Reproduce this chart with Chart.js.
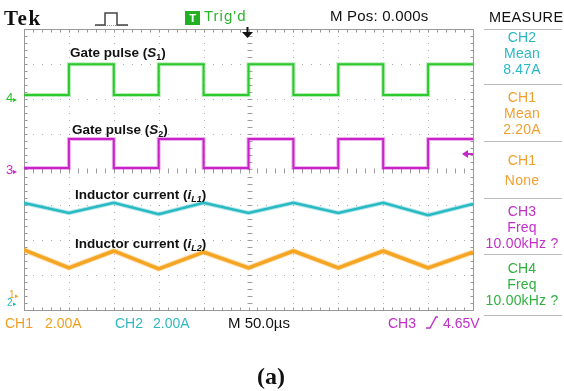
<!DOCTYPE html>
<html>
<head>
<meta charset="utf-8">
<script src="https://cdn.jsdelivr.net/npm/chart.js@4.4.1/dist/chart.umd.min.js"></script>
<style>
  html, body { margin:0; padding:0; background:#fff; }
  #wrap { position:relative; width:564px; height:391px; overflow:hidden; font-family:"Liberation Sans", Arial, sans-serif; }
  canvas { position:absolute; left:0; top:0; }
  .t { position:absolute; white-space:nowrap; line-height:16px; }
  .lab { position:absolute; white-space:nowrap; font-size:13.5px; font-weight:bold; color:#111; line-height:16px; }
  .lab sub { font-size:9px; vertical-align:-3px; }
  .pan { position:absolute; left:480px; width:84px; text-align:center; font-size:14px; line-height:16px; letter-spacing:0.2px; }
  .sep { position:absolute; left:484px; width:78px; height:0; border-top:1px solid #bbb; }
</style>
</head>
<body>
<div id="wrap">
<canvas id="c" width="564" height="391"></canvas>

<!-- top bar -->
<div class="t" style="left:4px;top:7px;font-family:'Liberation Serif',serif;font-weight:bold;font-size:21px;line-height:22px;letter-spacing:1.5px;color:#111;">Tek</div>
<svg style="position:absolute;left:94px;top:10px" width="36" height="18">
  <line x1="1" y1="15.5" x2="34" y2="15.5" stroke="#999" stroke-width="1" stroke-dasharray="1,1"/>
  <polyline points="1,15 11,15 11,3 23,3 23,15 34,15" fill="none" stroke="#444" stroke-width="1.5"/>
</svg>
<div style="position:absolute;left:185px;top:11px;width:15px;height:14px;background:#22b022;color:#fff;font-size:11px;font-weight:bold;text-align:center;line-height:14px;">T</div>
<div class="t" style="left:204px;top:8px;font-size:15px;letter-spacing:1px;color:#2cb52c;">Trig'd</div>
<div class="t" style="left:330px;top:8px;font-size:15px;letter-spacing:0.2px;color:#111;">M Pos: 0.000s</div>
<div class="t" style="left:489px;top:9px;font-size:14.5px;letter-spacing:0.4px;color:#111;">MEASURE</div>
<svg style="position:absolute;left:241px;top:27px" width="13" height="12">
  <line x1="6.5" y1="0" x2="6.5" y2="6" stroke="#111" stroke-width="2"/>
  <polygon points="1,5 12,5 6.5,11" fill="#111"/>
</svg>

<!-- left channel markers -->
<div class="t" style="left:6px;top:90px;font-size:13px;color:#2cc02c;">4<span style="font-size:8px">&#9656;</span></div>
<div class="t" style="left:6px;top:162px;font-size:13px;color:#c828c8;">3<span style="font-size:8px">&#9656;</span></div>
<div class="t" style="left:9px;top:289px;font-size:10px;line-height:12px;color:#f0a020;">1<span style="font-size:7px">&#9656;</span></div>
<div class="t" style="left:7px;top:297px;font-size:10px;line-height:12px;color:#22b8c0;">2<span style="font-size:7px">&#9656;</span></div>
<svg style="position:absolute;left:461px;top:149px" width="13" height="10">
  <polygon points="1,5 7,1 7,9" fill="#c828c8"/>
  <line x1="6" y1="5" x2="12" y2="5" stroke="#c828c8" stroke-width="2"/>
</svg>

<!-- trace labels -->
<div class="lab" style="left:70px;top:45px;">Gate pulse (<i>S</i><sub>1</sub>)</div>
<div class="lab" style="left:72px;top:122px;">Gate pulse (<i>S</i><sub>2</sub>)</div>
<div class="lab" style="left:75px;top:187px;">Inductor current (<i>i<sub>L1</sub></i>)</div>
<div class="lab" style="left:75px;top:236px;">Inductor current (<i>i<sub>L2</sub></i>)</div>

<!-- measure panel -->
<div class="sep" style="top:29px"></div>
<div class="pan" style="top:29px;color:#2ab8c2;">CH2<br>Mean<br>8.47A</div>
<div class="sep" style="top:84px"></div>
<div class="pan" style="top:89px;color:#f0a030;">CH1<br>Mean<br>2.20A</div>
<div class="sep" style="top:141px"></div>
<div class="pan" style="top:150px;line-height:20px;color:#f0a030;">CH1<br>None</div>
<div class="sep" style="top:198px"></div>
<div class="pan" style="top:203px;color:#c030c8;">CH3<br>Freq<br>10.00kHz ?</div>
<div class="sep" style="top:254px"></div>
<div class="pan" style="top:260px;color:#30b040;">CH4<br>Freq<br>10.00kHz ?</div>
<div class="sep" style="top:315px"></div>

<!-- bottom bar -->
<div class="t" style="left:5px;top:315px;font-size:14px;color:#f0a020;">CH1</div>
<div class="t" style="left:45px;top:315px;font-size:14px;color:#f0a020;">2.00A</div>
<div class="t" style="left:115px;top:315px;font-size:14px;color:#30b8c0;">CH2</div>
<div class="t" style="left:153px;top:315px;font-size:14px;color:#30b8c0;">2.00A</div>
<div class="t" style="left:228px;top:315px;font-size:15px;color:#111;">M 50.0&#181;s</div>
<div class="t" style="left:388px;top:315px;font-size:14px;color:#c030c8;">CH3</div>
<svg style="position:absolute;left:425px;top:315px" width="14" height="14">
  <polyline points="1,13 5,13 11,2 13,2" fill="none" stroke="#c030c8" stroke-width="1.4"/>
</svg>
<div class="t" style="left:443px;top:315px;font-size:14px;color:#c030c8;">4.65V</div>

<div class="t" style="left:257px;top:363px;font-family:'Liberation Serif',serif;font-weight:bold;font-size:24px;line-height:26px;color:#111;">(a)</div>
</div>

<script>
// time in microseconds (M 50.0 us/div, 10 divisions)
const gateTimes = [0,50,50,100,100,150,150,200,200,250,250,300,300,350,350,400,400,450,450,500];
// gate pulses, screen divisions (0 = bottom, 8 = top)
const gateS1 = [6.12,6.12,7.0,7.0,6.12,6.12,7.0,7.0,6.12,6.12,7.0,7.0,6.12,6.12,7.0,7.0,6.12,6.12,7.0,7.0];
const gateS2 = [4.04,4.04,4.87,4.87,4.04,4.04,4.87,4.87,4.04,4.04,4.87,4.87,4.04,4.04,4.87,4.87,4.04,4.04,4.87,4.87];
// inductor currents, screen divisions
const currentTimes = [0,50,100,150,200,250,300,350,400,450,500];
const iL1 = [3.05,2.76,3.05,2.73,3.05,2.76,3.05,2.76,3.05,2.70,3.02];
const iL2 = [1.71,1.20,1.68,1.17,1.65,1.20,1.68,1.20,1.68,1.20,1.65];

function pts(xs, ys){ return xs.map((x,i)=>({x:x, y:ys[i]})); }

const scopeGrid = {
  id:'scopeGrid',
  beforeDatasetsDraw(chart){
    const {ctx, chartArea:a, scales:{x, y}} = chart;
    ctx.save();
    ctx.fillStyle = 'rgba(150,150,150,0.75)';
    for (let t = 50; t < 500; t += 50) {
      const px = Math.round(x.getPixelForValue(t));
      for (let v = 0.2; v < 8; v += 0.2) {
        const py = Math.round(y.getPixelForValue(v));
        ctx.fillRect(px, py, 1, 1);
      }
    }
    for (let v = 1; v < 8; v += 1) {
      const py = Math.round(y.getPixelForValue(v));
      for (let t = 10; t < 500; t += 10) {
        const px = Math.round(x.getPixelForValue(t));
        ctx.fillRect(px, py, 1, 1);
      }
    }
    ctx.strokeStyle = 'rgba(140,140,140,0.8)';
    ctx.lineWidth = 1;
    const cx = Math.round(x.getPixelForValue(250)) + 0.5;
    const cy = Math.round(y.getPixelForValue(4)) + 0.5;
    ctx.beginPath();
    for (let v = 0.2; v < 8; v += 0.2) {
      const py = Math.round(y.getPixelForValue(v)) + 0.5;
      ctx.moveTo(cx - 2, py); ctx.lineTo(cx + 3, py);
    }
    for (let t = 10; t < 500; t += 10) {
      const px = Math.round(x.getPixelForValue(t)) + 0.5;
      ctx.moveTo(px, cy - 2); ctx.lineTo(px, cy + 3);
    }
    ctx.stroke();
    ctx.strokeStyle = '#999';
    const L = Math.round(a.left)+0.5, R = Math.round(a.right)+0.5, T = Math.round(a.top)+0.5, B = Math.round(a.bottom)+0.5;
    ctx.strokeRect(L, T, R-L, B-T);
    ctx.beginPath();
    for (let t = 10; t < 500; t += 10) {
      const px = Math.round(x.getPixelForValue(t)) + 0.5;
      ctx.moveTo(px, T); ctx.lineTo(px, T + 3);
      ctx.moveTo(px, B); ctx.lineTo(px, B - 3);
    }
    for (let v = 0.2; v < 8; v += 0.2) {
      const py = Math.round(y.getPixelForValue(v)) + 0.5;
      ctx.moveTo(L, py); ctx.lineTo(L + 3, py);
      ctx.moveTo(R, py); ctx.lineTo(R - 3, py);
    }
    ctx.stroke();
    ctx.restore();
  }
};

function trace(label, xs, ys, rgb, w){
  return [
    { label:label + ' halo', data:pts(xs, ys), borderColor:'rgba(' + rgb + ',0.35)', borderWidth:w + 2 },
    { label:label, data:pts(xs, ys), borderColor:'rgb(' + rgb + ')', borderWidth:w }
  ];
}

new Chart(document.getElementById('c'), {
  type:'line',
  data:{ datasets:[
    ...trace('Inductor current (iL2)', currentTimes, iL2, '245,165,35', 3.5),
    ...trace('Inductor current (iL1)', currentTimes, iL1, '40,185,195', 2.5),
    ...trace('Gate pulse (S2)', gateTimes, gateS2, '200,35,200', 2),
    ...trace('Gate pulse (S1)', gateTimes, gateS1, '45,200,45', 2)
  ]},
  options:{
    responsive:false, animation:false, events:[],
    layout:{ padding:{ left:24, top:29, right:91, bottom:81 } },
    elements:{ point:{ radius:0 }, line:{ tension:0, borderJoinStyle:'miter' } },
    scales:{
      x:{ type:'linear', min:0, max:500, display:false },
      y:{ type:'linear', min:0, max:8, display:false }
    },
    plugins:{ legend:{ display:false }, tooltip:{ enabled:false } }
  },
  plugins:[scopeGrid]
});
</script>
</body>
</html>
